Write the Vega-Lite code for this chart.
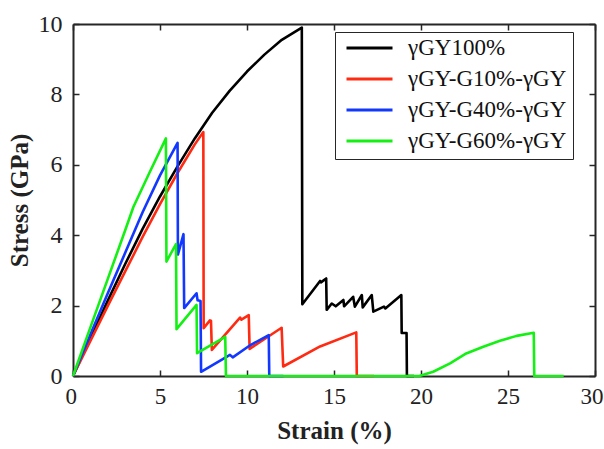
{
"$schema": "https://vega.github.io/schema/vega-lite/v6.json",
"width": 522, "height": 352,
"autosize": {"type": "none"},
"padding": {"left": 73, "top": 24, "right": 9, "bottom": 73},
"background": "white",
"config": {"view": {"stroke": null}, "font": "Liberation Serif"},
"data": {"values": [
{"s":"γGY100%","i":0,"x":0,"y":0},
{"s":"γGY100%","i":1,"x":1,"y":1.08},
{"s":"γGY100%","i":2,"x":2,"y":2.14},
{"s":"γGY100%","i":3,"x":3,"y":3.18},
{"s":"γGY100%","i":4,"x":4,"y":4.18},
{"s":"γGY100%","i":5,"x":5,"y":5.1},
{"s":"γGY100%","i":6,"x":6,"y":5.95},
{"s":"γGY100%","i":7,"x":7,"y":6.75},
{"s":"γGY100%","i":8,"x":8,"y":7.48},
{"s":"γGY100%","i":9,"x":9,"y":8.1},
{"s":"γGY100%","i":10,"x":10,"y":8.65},
{"s":"γGY100%","i":11,"x":11,"y":9.13},
{"s":"γGY100%","i":12,"x":12,"y":9.55},
{"s":"γGY100%","i":13,"x":13.15,"y":9.9},
{"s":"γGY100%","i":14,"x":13.18,"y":2.04},
{"s":"γGY100%","i":15,"x":14.2,"y":2.7},
{"s":"γGY100%","i":16,"x":14.25,"y":2.66},
{"s":"γGY100%","i":17,"x":14.55,"y":2.77},
{"s":"γGY100%","i":18,"x":14.58,"y":1.88},
{"s":"γGY100%","i":19,"x":14.87,"y":2.06},
{"s":"γGY100%","i":20,"x":15.1,"y":1.98},
{"s":"γGY100%","i":21,"x":15.54,"y":2.16},
{"s":"γGY100%","i":22,"x":15.58,"y":1.98},
{"s":"γGY100%","i":23,"x":16.1,"y":2.25},
{"s":"γGY100%","i":24,"x":16.2,"y":1.97},
{"s":"γGY100%","i":25,"x":16.6,"y":2.3},
{"s":"γGY100%","i":26,"x":16.65,"y":1.95},
{"s":"γGY100%","i":27,"x":17.17,"y":2.3},
{"s":"γGY100%","i":28,"x":17.26,"y":1.83},
{"s":"γGY100%","i":29,"x":17.87,"y":1.97},
{"s":"γGY100%","i":30,"x":17.95,"y":1.92},
{"s":"γGY100%","i":31,"x":18.87,"y":2.3},
{"s":"γGY100%","i":32,"x":18.89,"y":1.22},
{"s":"γGY100%","i":33,"x":19.17,"y":1.22},
{"s":"γGY100%","i":34,"x":19.19,"y":0},
{"s":"γGY100%","i":35,"x":19.6,"y":0},
{"s":"γGY-G10%-γGY","i":0,"x":0,"y":0},
{"s":"γGY-G10%-γGY","i":1,"x":1,"y":1.0},
{"s":"γGY-G10%-γGY","i":2,"x":2,"y":1.99},
{"s":"γGY-G10%-γGY","i":3,"x":3,"y":2.97},
{"s":"γGY-G10%-γGY","i":4,"x":4,"y":3.95},
{"s":"γGY-G10%-γGY","i":5,"x":5,"y":4.88},
{"s":"γGY-G10%-γGY","i":6,"x":6,"y":5.76},
{"s":"γGY-G10%-γGY","i":7,"x":7,"y":6.58},
{"s":"γGY-G10%-γGY","i":8,"x":7.49,"y":6.93},
{"s":"γGY-G10%-γGY","i":9,"x":7.51,"y":1.36},
{"s":"γGY-G10%-γGY","i":10,"x":7.87,"y":1.58},
{"s":"γGY-G10%-γGY","i":11,"x":7.93,"y":1.57},
{"s":"γGY-G10%-γGY","i":12,"x":7.98,"y":0.74},
{"s":"γGY-G10%-γGY","i":13,"x":9.6,"y":1.66},
{"s":"γGY-G10%-γGY","i":14,"x":9.68,"y":1.6},
{"s":"γGY-G10%-γGY","i":15,"x":10.1,"y":1.73},
{"s":"γGY-G10%-γGY","i":16,"x":10.15,"y":0.77},
{"s":"γGY-G10%-γGY","i":17,"x":11.99,"y":1.37},
{"s":"γGY-G10%-γGY","i":18,"x":12.08,"y":0.27},
{"s":"γGY-G10%-γGY","i":19,"x":14.2,"y":0.84},
{"s":"γGY-G10%-γGY","i":20,"x":16.28,"y":1.24},
{"s":"γGY-G10%-γGY","i":21,"x":16.31,"y":0},
{"s":"γGY-G10%-γGY","i":22,"x":17.3,"y":0},
{"s":"γGY-G40%-γGY","i":0,"x":0,"y":0},
{"s":"γGY-G40%-γGY","i":1,"x":1,"y":1.18},
{"s":"γGY-G40%-γGY","i":2,"x":2,"y":2.35},
{"s":"γGY-G40%-γGY","i":3,"x":3,"y":3.5},
{"s":"γGY-G40%-γGY","i":4,"x":4,"y":4.65},
{"s":"γGY-G40%-γGY","i":5,"x":5,"y":5.7},
{"s":"γGY-G40%-γGY","i":6,"x":6.01,"y":6.62},
{"s":"γGY-G40%-γGY","i":7,"x":6.03,"y":3.45},
{"s":"γGY-G40%-γGY","i":8,"x":6.35,"y":4.03},
{"s":"γGY-G40%-γGY","i":9,"x":6.39,"y":1.93},
{"s":"γGY-G40%-γGY","i":10,"x":7.1,"y":2.35},
{"s":"γGY-G40%-γGY","i":11,"x":7.16,"y":2.15},
{"s":"γGY-G40%-γGY","i":12,"x":7.33,"y":2.13},
{"s":"γGY-G40%-γGY","i":13,"x":7.36,"y":0.12},
{"s":"γGY-G40%-γGY","i":14,"x":9.02,"y":0.6},
{"s":"γGY-G40%-γGY","i":15,"x":9.18,"y":0.53},
{"s":"γGY-G40%-γGY","i":16,"x":10.2,"y":0.88},
{"s":"γGY-G40%-γGY","i":17,"x":11.25,"y":1.16},
{"s":"γGY-G40%-γGY","i":18,"x":11.28,"y":0},
{"s":"γGY-G40%-γGY","i":19,"x":12.1,"y":0},
{"s":"γGY-G60%-γGY","i":0,"x":0,"y":0},
{"s":"γGY-G60%-γGY","i":1,"x":1,"y":1.38},
{"s":"γGY-G60%-γGY","i":2,"x":2,"y":2.76},
{"s":"γGY-G60%-γGY","i":3,"x":3,"y":4.14},
{"s":"γGY-G60%-γGY","i":4,"x":3.47,"y":4.8},
{"s":"γGY-G60%-γGY","i":5,"x":4.4,"y":5.78},
{"s":"γGY-G60%-γGY","i":6,"x":5.34,"y":6.75},
{"s":"γGY-G60%-γGY","i":7,"x":5.37,"y":3.25},
{"s":"γGY-G60%-γGY","i":8,"x":5.92,"y":3.75},
{"s":"γGY-G60%-γGY","i":9,"x":5.95,"y":1.33},
{"s":"γGY-G60%-γGY","i":10,"x":7.1,"y":2.02},
{"s":"γGY-G60%-γGY","i":11,"x":7.13,"y":0.65},
{"s":"γGY-G60%-γGY","i":12,"x":8.75,"y":1.11},
{"s":"γGY-G60%-γGY","i":13,"x":8.79,"y":0},
{"s":"γGY-G60%-γGY","i":14,"x":19.9,"y":0},
{"s":"γGY-G60%-γGY","i":15,"x":20.7,"y":0.12},
{"s":"γGY-G60%-γGY","i":16,"x":21.67,"y":0.36},
{"s":"γGY-G60%-γGY","i":17,"x":22.6,"y":0.64},
{"s":"γGY-G60%-γGY","i":18,"x":23.58,"y":0.83},
{"s":"γGY-G60%-γGY","i":19,"x":24.54,"y":1.0},
{"s":"γGY-G60%-γGY","i":20,"x":25.5,"y":1.14},
{"s":"γGY-G60%-γGY","i":21,"x":26.48,"y":1.23},
{"s":"γGY-G60%-γGY","i":22,"x":26.51,"y":0},
{"s":"γGY-G60%-γGY","i":23,"x":28.2,"y":0}
]},
"layer": [
{
"mark": {"type": "line", "strokeWidth": 2.6, "strokeJoin": "round"},
"encoding": {
"x": {"field": "x", "type": "quantitative", "scale": {"domain": [0, 30], "nice": false},
"axis": {"orient": "bottom", "values": [0,5,10,15,20,25,30], "grid": false, "title": "Strain (%)",
"domainColor": "#262626", "domainWidth": 2, "tickColor": "#262626", "tickWidth": 1.5, "tickSize": -6,
"labelFontSize": 23, "labelColor": "#222222", "labelPadding": 15, "labelFlush": true, "labelFlushOffset": 8,
"titleFontSize": 25, "titleFontWeight": "bold", "titleColor": "#222222", "titlePadding": 10}},
"y": {"field": "y", "type": "quantitative", "scale": {"domain": [0, 10], "nice": false},
"axis": {"orient": "left", "values": [0,2,4,6,8,10], "grid": false, "title": "Stress (GPa)",
"domainColor": "#262626", "domainWidth": 2, "tickColor": "#262626", "tickWidth": 1.5, "tickSize": -6,
"labelFontSize": 24, "labelColor": "#222222", "labelPadding": 17, "labelFlush": false,
"titleFontSize": 25, "titleFontWeight": "bold", "titleColor": "#222222", "titlePadding": 6}},
"color": {"field": "s", "type": "nominal",
"scale": {"domain": ["γGY100%", "γGY-G10%-γGY", "γGY-G40%-γGY", "γGY-G60%-γGY"],
"range": ["#000000", "#ff2a12", "#1238ff", "#14f014"]},
"legend": {"orient": "none", "legendX": 262, "legendY": 8, "title": null,
"symbolType": "stroke", "symbolSize": 2116, "symbolStrokeWidth": 3, "clipHeight": 20,
"rowPadding": 8, "padding": 6, "symbolOffset": 4, "labelOffset": 14,
"labelFontSize": 23, "labelColor": "#111111", "labelLimit": 400,
"strokeColor": "#262626", "fillColor": "white"}},
"order": {"field": "i"}
}
},
{
"mark": {"type": "line", "opacity": 0},
"encoding": {
"x": {"field": "x", "type": "quantitative", "scale": {"domain": [0, 30], "nice": false},
"axis": {"orient": "top", "values": [0,5,10,15,20,25,30], "grid": false, "title": null, "labels": false,
"domainColor": "#262626", "domainWidth": 2, "tickColor": "#262626", "tickWidth": 1.5, "tickSize": -6}},
"y": {"field": "y", "type": "quantitative", "scale": {"domain": [0, 10], "nice": false},
"axis": {"orient": "right", "values": [0,2,4,6,8,10], "grid": false, "title": null, "labels": false,
"domainColor": "#262626", "domainWidth": 2, "tickColor": "#262626", "tickWidth": 1.5, "tickSize": -6}},
"detail": {"field": "s"}
}
}
],
"resolve": {"axis": {"x": "independent", "y": "independent"}}
}
